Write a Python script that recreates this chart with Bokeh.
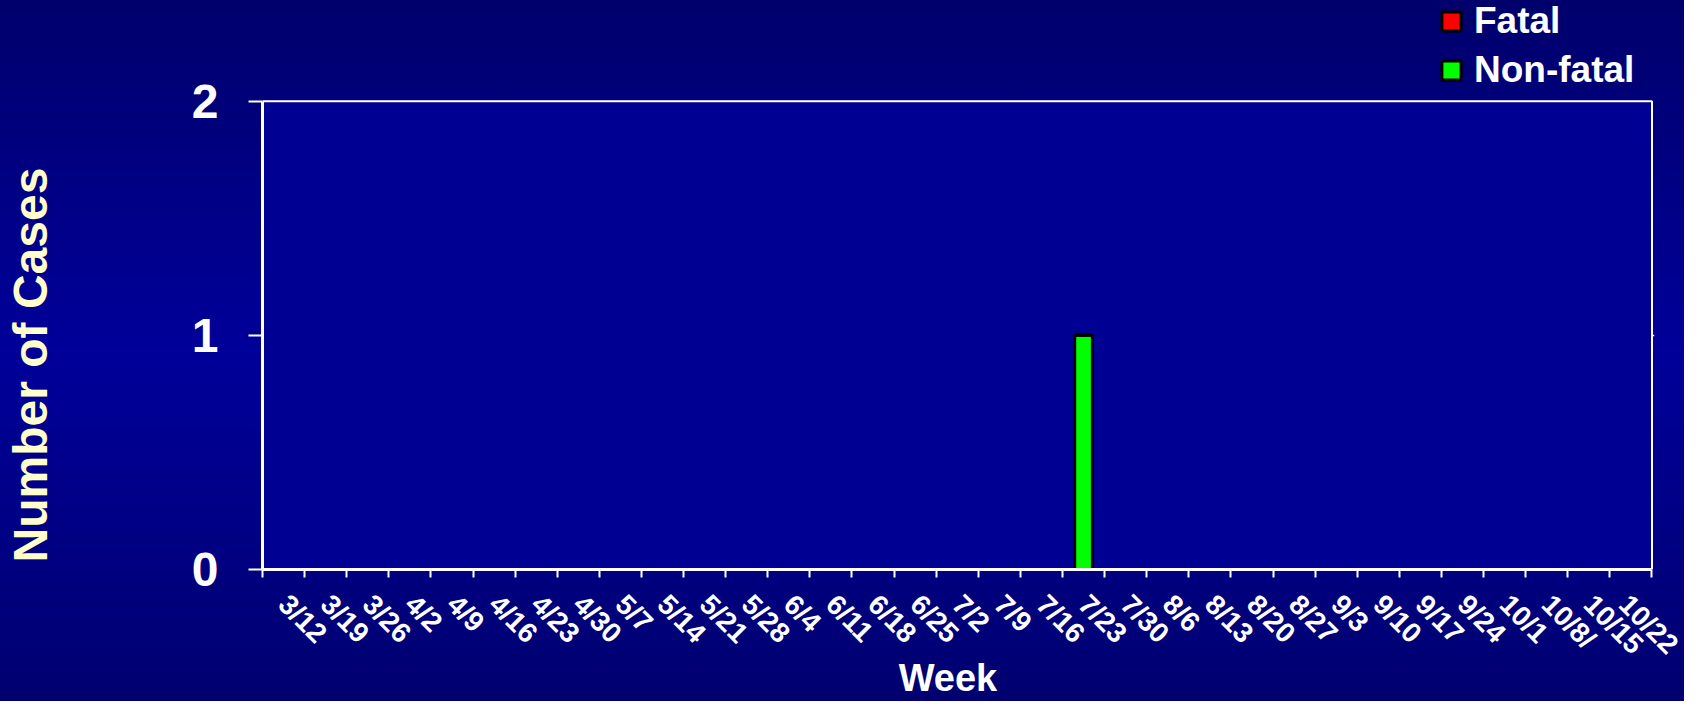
import math
from bokeh.plotting import figure
from bokeh.models import (Range1d, FixedTicker, CustomJSTickFormatter, Legend, LegendItem)
from bokeh.embed import file_html
from bokeh.resources import INLINE

weeks = ["3/12", "3/19", "3/26", "4/2", "4/9", "4/16", "4/23", "4/30", "5/7", "5/14",
         "5/21", "5/28", "6/4", "6/11", "6/18", "6/25", "7/2", "7/9", "7/16", "7/23",
         "7/30", "8/6", "8/13", "8/20", "8/27", "9/3", "9/10", "9/17", "9/24", "10/1",
         "10/8/", "10/15", "10/22"]
fatal = [0] * 33
nonfatal = [0, 0, 0, 0, 0, 0, 0, 0, 0, 0, 0, 0, 0, 0, 0, 0, 0, 0, 0, 1,
            0, 0, 0, 0, 0, 0, 0, 0, 0, 0, 0, 0, 0]
y_ticks = [0, 1, 2]

FONT = "Liberation Sans"
n = len(weeks)
ymax = y_ticks[-1]
xs = [i + 0.5 for i in range(n)]

# the frame extends above the plot box so that the legend (drawn in the frame) is not clipped
p = figure(width=1684, height=701, output_backend="svg", toolbar_location=None,
           x_range=Range1d(0, n + 0.06), y_range=Range1d(0, 2.43),
           min_border_left=260, min_border_right=30, min_border_top=0, min_border_bottom=131)

p.border_fill_color = None
p.styles = {"background": "linear-gradient(to bottom, #00006C 0%, #00009A 50%, #000070 100%)"}
p.background_fill_color = None
p.outline_line_color = None

# plot box
p.quad(left=[0], right=[n], bottom=[0], top=[ymax], fill_color="#000092", line_color=None)
p.line(x=[0, n, n], y=[ymax, ymax, 0], line_color="white", line_width=2)

src = dict(x=xs, fatal=fatal, nonfatal=nonfatal)
rs = p.vbar_stack(["nonfatal", "fatal"], x="x", width=0.42, source=src,
                  fill_color=["#00FF00", "#FF0000"], line_color="black", line_width=3)

# x axis
xa = p.xaxis[0]
xa.bounds = (0, n)
xa.ticker = FixedTicker(ticks=xs, minor_ticks=list(range(n + 1)))
xa.formatter = CustomJSTickFormatter(args=dict(labels=weeks),
                                     code="return labels[Math.floor(tick)];")
xa.major_tick_out = 0
xa.major_tick_in = 0
xa.minor_tick_out = 8
xa.minor_tick_in = 0
xa.minor_tick_line_color = "white"
xa.minor_tick_line_width = 2
xa.axis_line_color = "white"
xa.axis_line_width = 3
xa.major_label_orientation = -math.pi / 4
xa.major_label_text_font = FONT
xa.major_label_text_font_style = "bold"
xa.major_label_text_font_size = "28px"
xa.major_label_text_color = "white"
xa.major_label_standoff = 22
xa.axis_label = "Week" + "\u00a0" * 2
xa.axis_label_text_font = FONT
xa.axis_label_text_font_style = "bold"
xa.axis_label_text_font_size = "38px"
xa.axis_label_text_color = "white"
xa.axis_label_standoff = -17

# y axis
ya = p.yaxis[0]
ya.bounds = (0, ymax)
ya.ticker = FixedTicker(ticks=y_ticks)
ya.major_tick_out = 14
ya.major_tick_in = 0
ya.major_tick_line_color = "white"
ya.major_tick_line_width = 2
ya.minor_tick_line_color = None
ya.axis_line_color = "white"
ya.axis_line_width = 3
ya.major_label_text_font = FONT
ya.major_label_text_font_style = "bold"
ya.major_label_text_font_size = "48px"
ya.major_label_text_color = "white"
ya.major_label_standoff = 30
# trailing no-break spaces shift the centred title downwards like the reference
ya.axis_label = "Number of Cases" + "\u00a0" * 12
ya.axis_label_text_font = FONT
ya.axis_label_text_font_style = "bold"
ya.axis_label_text_font_size = "48px"
ya.axis_label_text_color = "#FFFFCC"
ya.axis_label_standoff = 132

p.xgrid.grid_line_color = None
p.ygrid.ticker = FixedTicker(ticks=[1])
p.ygrid.grid_line_color = "white"
p.ygrid.grid_line_width = 1.5

legend = Legend(items=[LegendItem(label="Fatal", renderers=[rs[1]]),
                       LegendItem(label="Non-fatal", renderers=[rs[0]])],
                location=(1177, 478), padding=0, margin=0, spacing=7,
                glyph_width=24, glyph_height=24, label_height=40, label_standoff=11,
                label_text_font=FONT, label_text_font_style="bold",
                label_text_font_size="37px", label_text_color="white",
                border_line_color=None, background_fill_alpha=0)
p.add_layout(legend)

open("out.html", "w").write(file_html(p, INLINE))
